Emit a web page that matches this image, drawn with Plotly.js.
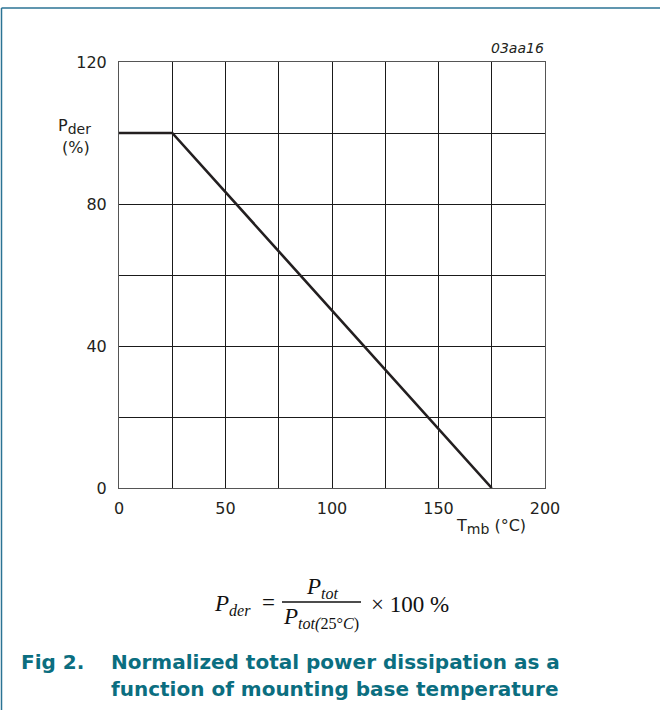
<!DOCTYPE html>
<html>
<head>
<meta charset="utf-8">
<script src="https://cdn.plot.ly/plotly-3.0.1.min.js"></script>
<style>
html,body{margin:0;padding:0;background:#fff;}
#chart{width:660px;height:710px;}
</style>
</head>
<body>
<div id="chart"></div>
<script>
// Data
const tempC = [0, 25, 175];
const pderPct = [100, 100, 0];
const xTickVals = [0, 25, 50, 75, 100, 125, 150, 175, 200];
const xTickText = ['0', '', '50', '', '100', '', '150', '', '200'];
const yTickVals = [0, 20, 40, 60, 80, 100, 120];
const yTickText = ['0', '', '40', '', '80', '', '120'];

const W = 660, H = 710;
const L = 119, R = 545, T = 62, B = 488;
const px = x => (x - L) / (R - L);
const py = y => (B - y) / (B - T);

const teal = '#0b6e80';
const frame = '#2b7394';
const serif = 'Liberation Serif, Times New Roman, serif';
const sans = 'DejaVu Sans, Verdana, sans-serif';

const trace = {
  x: tempC, y: pderPct, type: 'scatter', mode: 'lines',
  line: {color: '#231f20', width: 2.6}, hoverinfo: 'skip'
};

function ann(text, x, y, xa, ya, font) {
  return {text: text, xref: 'paper', yref: 'paper', x: px(x), y: py(y),
    xanchor: xa, yanchor: ya, showarrow: false, font: font};
}

const layout = {
  width: W, height: H,
  margin: {l: L, r: W - R, t: T, b: H - B, pad: 0},
  paper_bgcolor: '#fff', plot_bgcolor: '#fff',
  showlegend: false,
  font: {family: sans, size: 16, color: '#231f20'},
  xaxis: {
    range: [0, 200], tickvals: xTickVals, ticktext: xTickText,
    showgrid: true, gridcolor: '#1a1a1a', gridwidth: 1,
    showline: true, linecolor: '#555', linewidth: 1, mirror: true,
    zeroline: false, ticks: '', ticklabelstandoff: 6,
    tickfont: {family: sans, size: 16, color: '#231f20'}, fixedrange: true
  },
  yaxis: {
    range: [0, 120], tickvals: yTickVals, ticktext: yTickText,
    showgrid: true, gridcolor: '#1a1a1a', gridwidth: 1,
    showline: true, linecolor: '#555', linewidth: 1, mirror: true,
    zeroline: false, ticks: '', ticklabelstandoff: 8,
    tickfont: {family: sans, size: 16, color: '#231f20'}, fixedrange: true
  },
  shapes: [
    {type: 'line', xref: 'paper', yref: 'paper', x0: px(1.5), x1: px(W + 5), y0: py(8), y1: py(8), line: {color: frame, width: 1.5}},
    {type: 'line', xref: 'paper', yref: 'paper', x0: px(1.5), x1: px(1.5), y0: py(8), y1: py(H + 5), line: {color: frame, width: 1.5}},
    {type: 'line', xref: 'paper', yref: 'paper', x0: px(282), x1: px(361), y0: py(602), y1: py(602), line: {color: '#111', width: 1.3}}
  ],
  annotations: [
    ann('<i>03aa16</i>', 546, 48, 'right', 'middle', {family: sans, size: 14, color: '#231f20'}),
    ann('P<sub><span style="font-size:14px">der</span></sub>', 56, 127, 'left', 'middle', {family: sans, size: 16, color: '#231f20'}),
    ann('(%)', 76, 147, 'center', 'middle', {family: sans, size: 16, color: '#231f20'}),
    ann('T<sub><span style="font-size:14px">mb</span></sub> (°C)', 528, 526, 'right', 'middle', {family: sans, size: 16, color: '#231f20'}),
    ann('<i>P<sub>der</sub></i>', 212, 605, 'left', 'middle', {family: serif, size: 23, color: '#111'}),
    ann('=', 268, 602, 'center', 'middle', {family: serif, size: 23, color: '#111'}),
    ann('<i>P<sub>tot</sub></i>', 322, 588, 'center', 'middle', {family: serif, size: 23, color: '#111'}),
    ann('<i>P<sub>tot(</sub></i><sub>25°<i>C</i>)</sub>', 321, 618, 'center', 'middle', {family: serif, size: 23, color: '#111'}),
    ann('× 100 %', 369, 604, 'left', 'middle', {family: serif, size: 23, color: '#111'}),
    ann('<b>Fig 2.</b>', 19, 662, 'left', 'middle', {family: sans, size: 20, color: teal}),
    ann('<b>Normalized total power dissipation as a</b>', 109, 662, 'left', 'middle', {family: sans, size: 20, color: teal}),
    ann('<b>function of mounting base temperature</b>', 109, 689, 'left', 'middle', {family: sans, size: 20, color: teal})
  ]
};

Plotly.newPlot('chart', [trace], layout, {displayModeBar: false, staticPlot: true});
</script>
</body>
</html>
